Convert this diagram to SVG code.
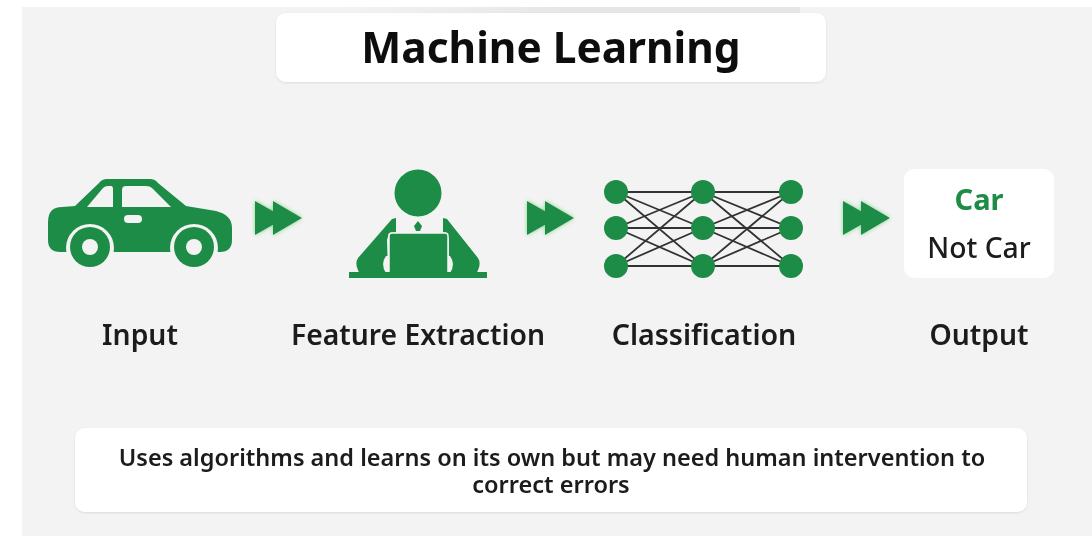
<svg xmlns="http://www.w3.org/2000/svg" width="1092" height="536" viewBox="0 0 1092 536">
<defs>
<filter id="soft" x="-10%" y="-10%" width="120%" height="120%"><feGaussianBlur stdDeviation="0.45"/></filter>
<filter id="shadow" x="-5%" y="-10%" width="110%" height="125%"><feDropShadow dx="0" dy="1" stdDeviation="1.2" flood-color="#000" flood-opacity="0.1"/></filter>
<filter id="glow" x="-30%" y="-30%" width="160%" height="160%"><feGaussianBlur in="SourceAlpha" stdDeviation="2" result="b"/><feFlood flood-color="#7fd68e"/><feComposite in2="b" operator="in"/><feMerge><feMergeNode/><feMergeNode in="SourceGraphic"/></feMerge></filter>
<linearGradient id="band" x1="0" x2="1" y1="0" y2="0"><stop offset="0" stop-color="#f3f3f3"/><stop offset="0.5" stop-color="#e6e6e6"/><stop offset="1" stop-color="#e6e6e6"/></linearGradient>
<g id="ff"><path d="M0 0L30 17L0 34Z M18 0L47 17L18 34Z" fill="#1e8c46"/></g>
</defs>
<style>
.card{fill:#fff}
.g{fill:#1e8c46}
.w{fill:#f3f3f3}
text{font-family:"Noto Sans","Open Sans",sans-serif;font-weight:600;fill:#1a1a1a;text-anchor:middle}
.l{font-size:28.3px}
.e{stroke:#333;stroke-width:1.8;fill:none}
</style>
<rect width="1092" height="536" fill="#fff"/>
<rect x="22" y="7" width="1070" height="529" fill="#f3f3f3"/>
<rect x="340" y="7" width="460" height="6" fill="url(#band)"/>
<g id="title" filter="url(#soft)"><rect class="card" x="276" y="13" width="550" height="69" rx="10" filter="url(#shadow)"/><text x="551" y="63" font-size="42.4" style="font-weight:700;fill:#111">Machine Learning</text></g>
<g id="input" filter="url(#soft)">
<path class="g" d="M48 222Q48 207 62 207L75 206L99 183Q102 179 107 179L150 179Q155 179 158 183L186 206L216 211Q232 215 232 228L232 240Q232 252 220 252L60 252Q48 252 48 240Z"/>
<path class="w" d="M87 207L103 188Q105 186 108 186L111 186Q113 186 113 189L113 207Z"/>
<path class="w" d="M122 190Q122 186 126 186L146 186Q150 186 152 188L171 207L122 207Z"/>
<rect class="w" x="124" y="215" width="18" height="8" rx="4"/>
<circle cx="90" cy="248" r="24" class="w"/><circle cx="194" cy="248" r="24" class="w"/>
<circle cx="90" cy="247" r="20" class="g"/><circle cx="194" cy="247" r="20" class="g"/>
<circle cx="90" cy="247" r="8" class="w"/><circle cx="194" cy="247" r="8" class="w"/>
<text class="l" x="140" y="345">Input</text>
</g>
<g id="feature" filter="url(#soft)">
<circle class="g" cx="418" cy="193" r="23.5"/>
<path class="g" d="M392 219L396 218L396 232L389 233L387 240L388 274L360 274Q354 264 358 258Z"/>
<path class="g" d="M443 218L447 219L478 258Q482 264 476 274L449 274L449 240L447 233L443 232Z"/>
<path class="w" d="M386 256Q380 264 386 273L389 273L389 256Z"/>
<path class="w" d="M450 256Q456 264 450 273L447 273L447 256Z"/>
<path class="g" d="M414 226L418 221L422 226L420 231L416 231Z"/>
<rect class="g" x="389" y="233" width="59" height="43" rx="3" stroke="#f3f3f3" stroke-width="1.5"/>
<rect class="g" x="349" y="272" width="138" height="6"/>
<text class="l" x="418" y="345">Feature Extraction</text>
</g>
<g id="classification" filter="url(#soft)">
<g class="e">
<path d="M616 192L703 192L791 192M616 228L703 228L791 228M616 266L703 266L791 266"/>
<path d="M616 192L703 228M616 192L703 266M616 228L703 192M616 228L703 266M616 266L703 192M616 266L703 228"/>
<path d="M703 192L791 228M703 192L791 266M703 228L791 192M703 228L791 266M703 266L791 192M703 266L791 228"/>
</g>
<g class="g"><circle cx="616" cy="192" r="12"/><circle cx="616" cy="228" r="12"/><circle cx="616" cy="266" r="12"/><circle cx="703" cy="192" r="12"/><circle cx="703" cy="228" r="12"/><circle cx="703" cy="266" r="12"/><circle cx="791" cy="192" r="12"/><circle cx="791" cy="228" r="12"/><circle cx="791" cy="266" r="12"/></g>
<text class="l" x="704" y="345" style="font-size:28.6px">Classification</text>
</g>
<g id="output" filter="url(#soft)">
<rect x="904" y="169" width="150" height="109" rx="10" fill="#fff"/>
<text x="979" y="210" font-size="29" style="font-weight:700;fill:#1e8c46">Car</text>
<text x="979" y="258" font-size="28.3" style="font-weight:500">Not Car</text>
<text class="l" x="979" y="345">Output</text>
</g>
<g id="connectors" filter="url(#glow)">
<use href="#ff" x="255" y="201"/>
<use href="#ff" x="527" y="201"/>
<use href="#ff" x="843" y="201"/>
</g>
<g id="note" filter="url(#soft)"><rect class="card" x="75" y="428" width="952" height="84" rx="10" filter="url(#shadow)"/>
<text font-size="23.5"><tspan x="552" y="466">Uses algorithms and learns on its own but may need human intervention to</tspan><tspan x="551" y="493">correct errors</tspan></text></g>
</svg>
